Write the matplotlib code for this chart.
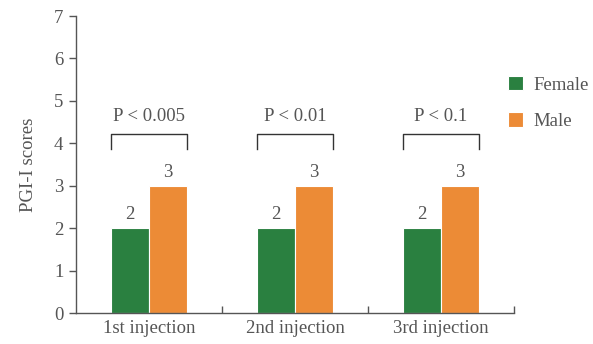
import matplotlib
matplotlib.use("Agg")
import matplotlib.pyplot as plt
import numpy as np

categories = ["1st injection", "2nd injection", "3rd injection"]
female = [2, 2, 2]
male = [3, 3, 3]
pvalues = ["P < 0.005", "P < 0.01", "P < 0.1"]
yticks = [0, 1, 2, 3, 4, 5, 6, 7]

green = "#2a8040"
orange = "#ec8b36"
gray = "#555555"

plt.rcParams['font.family'] = ['Liberation Serif', 'DejaVu Serif']

fig = plt.figure(figsize=(5.93, 3.44), dpi=100)
ax = fig.add_axes([76/593, 1-313/344, (514-76)/593, (313-16)/344])

x = np.arange(len(categories))
w = 0.26
b1 = ax.bar(x - w/2, female, w, color=green, edgecolor="white", linewidth=0.8, label="Female")
b2 = ax.bar(x + w/2, male, w, color=orange, edgecolor="white", linewidth=0.8, label="Male")

fs = 13.5
for xi, v in zip(x, female):
    ax.text(xi - w/2, v + 0.12, str(v), ha="center", va="bottom", fontsize=fs, color=gray)
for xi, v in zip(x, male):
    ax.text(xi + w/2, v + 0.12, str(v), ha="center", va="bottom", fontsize=fs, color=gray)

for xi, p in zip(x, pvalues):
    x0, x1 = xi - w, xi + w
    ax.plot([x0, x0, x1, x1], [3.87, 4.23, 4.23, 3.87], color="#333333", lw=1.0)
    ax.text(xi, 4.42, p, ha="center", va="bottom", fontsize=fs, color=gray)

ax.set_xlim(-0.5, 2.5)
ax.set_ylim(0, 7)
ax.set_yticks(yticks)
ax.set_yticklabels([str(t) for t in yticks], fontsize=fs, color=gray)
ax.set_xticks([0.5, 1.5, 2.5])
ax.set_xticklabels([])
ax.set_xticks(x, minor=True)
ax.set_xticklabels(categories, minor=True, fontsize=fs, color=gray)
ax.tick_params(axis="x", which="major", direction="in", length=5, color=gray, width=1)
ax.tick_params(axis="x", which="minor", length=0, pad=5)
ax.tick_params(axis="y", direction="out", length=5, color=gray, width=1, pad=4)
ax.set_ylabel("PGI-I scores", fontsize=fs, color=gray, labelpad=12)

for s in ["top", "right"]:
    ax.spines[s].set_visible(False)
for s in ["left", "bottom"]:
    ax.spines[s].set_color(gray)
    ax.spines[s].set_linewidth(1)

leg = fig.legend(handles=[b1, b2], labels=["Female", "Male"], loc="upper left",
                 bbox_to_anchor=(491/593, 1-59/344), frameon=False, fontsize=fs,
                 handlelength=0.8, handleheight=0.8, handletextpad=0.55, labelspacing=1.0,
                 labelcolor=gray)

fig.savefig("out.png", dpi=100)
